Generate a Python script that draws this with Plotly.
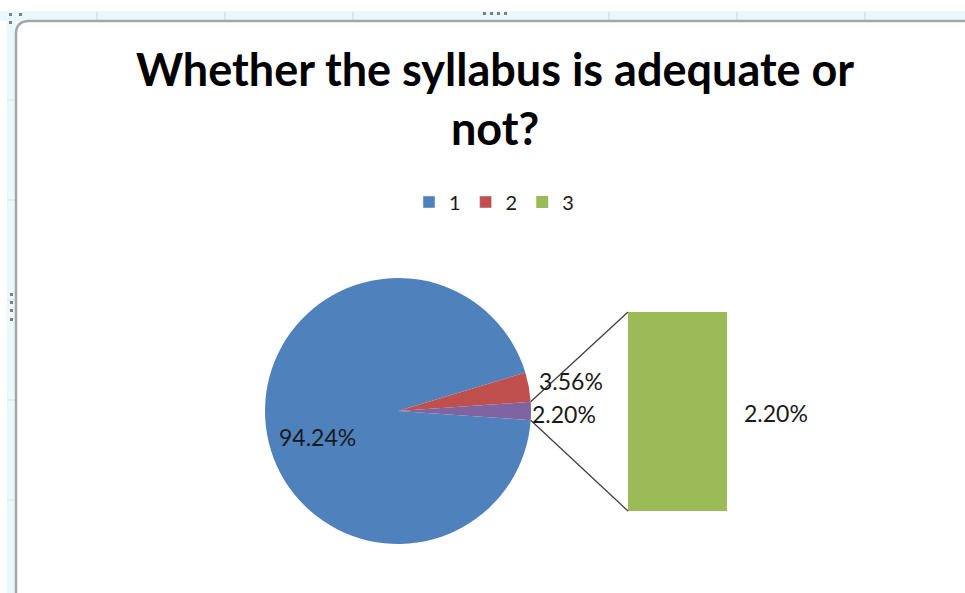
import math
import plotly.graph_objects as go

# ---------------- data ----------------
pie_labels = ["1", "2", "Other"]
pie_values = [94.24, 3.56, 2.20]
pie_colors = ["#4F81BD", "#C0504D", "#8064A2"]
bar_labels = ["3"]
bar_values = [2.20]
bar_color = "#9BBB59"
legend_names = ["1", "2", "3"]
legend_colors = ["#4F81BD", "#C0504D", "#9BBB59"]
title_text = "Whether the syllabus is adequate or<br>not?"

# ---------------- layout constants (pixels) ----------------
W, H = 965, 593
cx, cy, r = 398, 411, 133
bar_x0, bar_x1, bar_y0, bar_y1 = 628, 727, 312, 511
FONT = "Lato"


def px(x):
    return x / W


def py(y):
    return 1 - y / H


total = sum(pie_values)
other_half = pie_values[2] / total * math.pi  # half angle of "other" slice (radians)
rotation = 90 + math.degrees(other_half)

fig = go.Figure()

# pie (bar-of-pie primary)
fig.add_trace(go.Pie(
    labels=pie_labels,
    values=pie_values,
    sort=False,
    direction="clockwise",
    rotation=rotation,
    marker=dict(colors=pie_colors, line=dict(width=0)),
    textinfo="none",
    hoverinfo="label+percent",
    showlegend=False,
    domain=dict(x=[px(cx - r), px(cx + r)], y=[py(cy + r), py(cy - r)]),
))

# legend entries for 1 and 2
for name, col in zip(legend_names[:2], legend_colors[:2]):
    fig.add_trace(go.Bar(x=[None], y=[None], name=name, marker_color=col,
                         showlegend=True, xaxis="x", yaxis="y"))

# secondary bar
fig.add_trace(go.Bar(
    x=bar_labels, y=bar_values, name=legend_names[2], marker_color=bar_color,
    marker_line_width=0, width=1, showlegend=True, hoverinfo="y",
))

# connector lines
edge_x = cx + r * math.cos(other_half)
top_y = cy - r * math.sin(other_half)
bot_y = cy + r * math.sin(other_half)
shapes = [
    dict(type="line", xref="paper", yref="paper",
         x0=px(edge_x), y0=py(top_y), x1=px(bar_x0), y1=py(bar_y0),
         line=dict(color="#404040", width=1.3)),
    dict(type="line", xref="paper", yref="paper",
         x0=px(edge_x), y0=py(bot_y), x1=px(bar_x0), y1=py(bar_y1),
         line=dict(color="#404040", width=1.3)),
]

# Excel-like frame decorations
shapes += [
    dict(type="rect", xref="paper", yref="paper", x0=0, x1=1, y0=py(21), y1=py(11),
         fillcolor="#E8F8FB", line=dict(width=0), layer="below"),
    dict(type="rect", xref="paper", yref="paper", x0=px(7), x1=px(16), y0=0, y1=py(11),
         fillcolor="#E8F8FB", line=dict(width=0), layer="below"),
]
for gx in [97, 225, 353, 609, 737, 865]:
    shapes.append(dict(type="line", xref="paper", yref="paper", x0=px(gx), x1=px(gx),
                       y0=py(20), y1=py(12), line=dict(color="#C8D8DC", width=1)))
for gy in [100, 200, 300, 400, 500]:
    shapes.append(dict(type="line", xref="paper", yref="paper", x0=px(7), x1=px(15),
                       y0=py(gy), y1=py(gy), line=dict(color="#D5E3E6", width=1)))
# border with rounded top-left corner
border_path = (f"M {px(16)},{py(593)} L {px(16)},{py(34)} "
               f"Q {px(16)},{py(21)} {px(29)},{py(21)} L {px(966)},{py(21)}")
shapes.append(dict(type="path", xref="paper", yref="paper", path=border_path,
                   line=dict(color="#A6A6A6", width=2.5)))
# handle dots
for hx in [483, 490, 497, 504]:
    shapes.append(dict(type="rect", xref="paper", yref="paper", x0=px(hx), x1=px(hx + 3),
                       y0=py(15), y1=py(12), fillcolor="#7F7F7F", line=dict(width=0)))
for hy in [293, 301, 309, 318]:
    shapes.append(dict(type="rect", xref="paper", yref="paper", x0=px(10), x1=px(13),
                       y0=py(hy + 3), y1=py(hy), fillcolor="#7F7F7F", line=dict(width=0)))
for (hx, hy) in [(9, 13), (19, 13), (9, 21)]:
    shapes.append(dict(type="rect", xref="paper", yref="paper", x0=px(hx), x1=px(hx + 3),
                       y0=py(hy + 3), y1=py(hy), fillcolor="#7F7F7F", line=dict(width=0)))

# data labels
lab_font = dict(family=FONT, size=23, color="#1A1A1A")
annotations = [
    dict(text=f"{pie_values[0]:.2f}%", x=px(317), y=py(437), xref="paper", yref="paper",
         showarrow=False, font=lab_font, xanchor="center", yanchor="middle"),
    dict(text=f"{pie_values[1]:.2f}%", x=px(537), y=py(381), xref="paper", yref="paper",
         showarrow=False, font=lab_font, xanchor="left", yanchor="middle"),
    dict(text=f"{pie_values[2]:.2f}%", x=px(530), y=py(414), xref="paper", yref="paper",
         showarrow=False, font=lab_font, xanchor="left", yanchor="middle"),
    dict(text=f"{bar_values[0]:.2f}%", x=px(776), y=py(413), xref="paper", yref="paper",
         showarrow=False, font=lab_font, xanchor="center", yanchor="middle"),
]

fig.update_layout(
    width=W, height=H,
    margin=dict(l=0, r=0, t=0, b=0),
    paper_bgcolor="white", plot_bgcolor="rgba(0,0,0,0)",
    barmode="overlay",
    title=dict(text=f"<b>{title_text}</b>", x=px(495), xanchor="center",
               y=py(86), yanchor="middle",
               font=dict(family=FONT, size=45, color="#000000")),
    xaxis=dict(type="category", domain=[px(bar_x0), px(bar_x1)], range=[-0.5, 0.5],
               visible=False, fixedrange=True),
    yaxis=dict(domain=[py(bar_y1), py(bar_y0)], range=[0, bar_values[0]], visible=False,
               fixedrange=True),
    legend=dict(orientation="h", x=px(494), xanchor="center", y=py(202), yanchor="middle",
                font=dict(family=FONT, size=20, color="#1A1A1A"),
                itemwidth=30, traceorder="normal", bgcolor="rgba(0,0,0,0)"),
    shapes=shapes,
    annotations=annotations,
)

fig.write_html("out.html",
               config={"displayModeBar": False},
               post_script="document.body.style.margin='0px';document.body.style.overflow='hidden';")
